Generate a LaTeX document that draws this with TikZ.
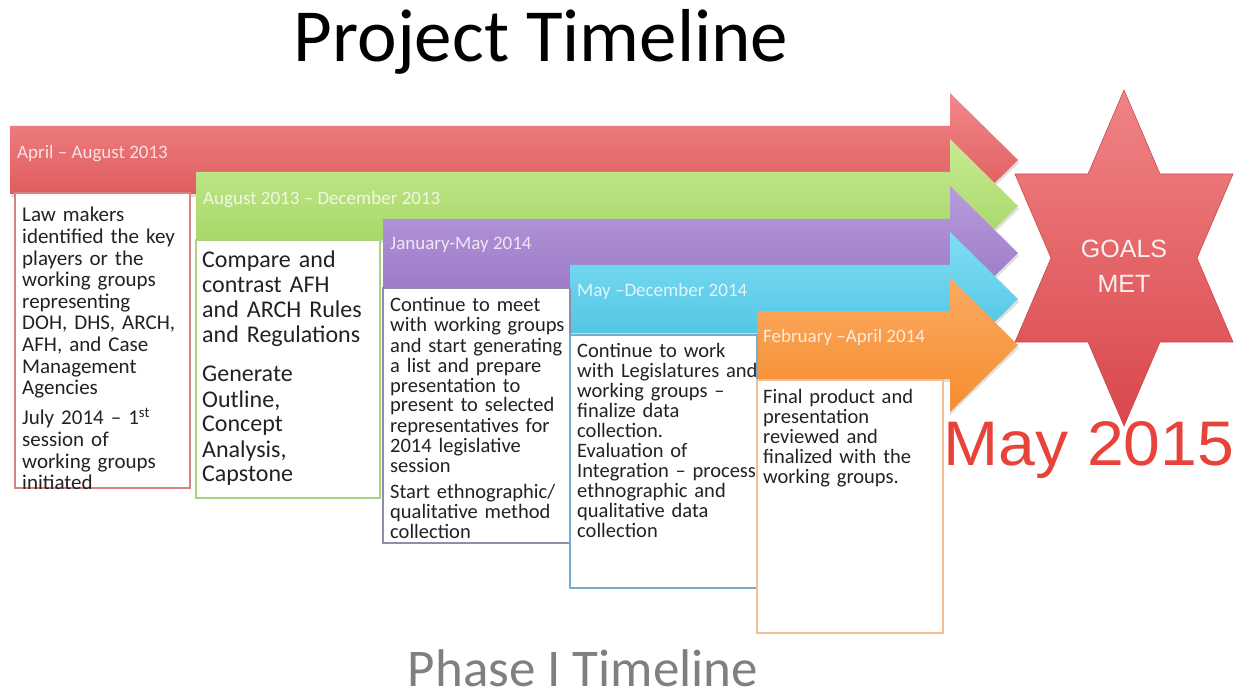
\documentclass[tikz,border=0pt]{standalone}
\usepackage{fontspec}
\setmainfont{Carlito}
\newfontfamily\arialfont{Liberation Sans}
\definecolor{redA}{HTML}{F2888B}
\definecolor{redB}{HTML}{DA4F50}
\definecolor{greenA}{HTML}{C8EA92}
\definecolor{greenB}{HTML}{9DD25C}
\definecolor{purpleA}{HTML}{B89CDB}
\definecolor{purpleB}{HTML}{9470C3}
\definecolor{cyanA}{HTML}{82DEF3}
\definecolor{cyanB}{HTML}{43BFE1}
\definecolor{orangeA}{HTML}{FBAA62}
\definecolor{orangeB}{HTML}{F68D2E}
\definecolor{redL}{HTML}{D98283}
\definecolor{greenL}{HTML}{A9D37C}
\definecolor{purpleL}{HTML}{8E8EAA}
\definecolor{cyanL}{HTML}{7AABC9}
\definecolor{orangeL}{HTML}{F2BF92}
\definecolor{starA}{HTML}{F08486}
\definecolor{starB}{HTML}{D9474B}
\definecolor{starL}{HTML}{C8494C}
\definecolor{mayred}{HTML}{E8433B}
\definecolor{txtgray}{HTML}{222222}
\definecolor{subgray}{HTML}{7F7F7F}
\newcommand\tlarrow[4]{%
  \fill[black!12] (#1+1,#2-31) -- (950,#2-31) -- (950,#2-64) -- (1019,#2+3) --
    (950,#2+70) -- (950,#2+37) -- (#1+1,#2+37) -- cycle;
  \shade[top color=#3,bottom color=#4]
    (#1,#2-34) -- (950,#2-34) -- (950,#2-67) -- (1018,#2) --
    (950,#2+67) -- (950,#2+34) -- (#1,#2+34) -- cycle;}
\tikzset{
  boxtext/.style={anchor=base west, inner sep=0pt, text width=#1, align=left, text=txtgray},
  lbl/.style={anchor=base west, inner sep=0pt, text=white, text opacity=0.8, font=\fontsize{19}{22}\selectfont},
  boxframe/.style={fill=white, line width=1.1pt}
}
\begin{document}
\begin{tikzpicture}[x=1pt,y=-1pt]
\useasboundingbox (0,0) rectangle (1246,700);
% arrows
\tlarrow{10}{160}{redA}{redB}
\tlarrow{196}{206}{greenA}{greenB}
\tlarrow{383}{253}{purpleA}{purpleB}
\tlarrow{570}{299}{cyanA}{cyanB}
\tlarrow{757}{345}{orangeA}{orangeB}
% labels
\node[lbl] (l1) at (17,159) {April – August 2013};
\node[lbl] (l2) at (203,205) {August 2013 – December 2013};
\node[lbl] (l3) at (390,250) {January-May 2014};
\node[lbl] (l4) at (577,297) {May –December 2014};
\node[lbl] (l5) at (763,342) {February –April 2014};
% boxes
\draw[boxframe, draw=redL] (15,193) rectangle (190,488);
\draw[boxframe, draw=greenL] (196,240) rectangle (380,498);
\draw[boxframe, draw=purpleL] (383,288) rectangle (570,543);
\draw[boxframe, draw=cyanL] (570,335) rectangle (757,588);
\draw[boxframe, draw=orangeL] (757,380) rectangle (943,633);
% box texts
\node[boxtext=170pt, font=\fontsize{21}{21.6}\selectfont] (t1) at (22,222)
  {Law makers\\identified the key\\players or the\\working groups\\representing\\DOH, DHS, ARCH,\\AFH, and Case\\Management\\Agencies\\[8.5pt]July 2014 – 1\textsuperscript{st}\\session of\\working groups\\initiated};
\node[boxtext=178pt, font=\fontsize{24}{25}\selectfont] (t2) at (202,268)
  {Compare and\\contrast AFH\\and ARCH Rules\\and Regulations\\[14pt]Generate\\Outline,\\Concept\\Analysis,\\Capstone};
\node[boxtext=180pt, font=\fontsize{20.5}{20}\selectfont] (t3) at (390,312)
  {Continue to meet\\with working groups\\and start generating\\a list and prepare\\presentation to\\present to selected\\representatives for\\2014 legislative\\session\\[6pt]Start ethnographic/\\qualitative method\\collection};
\node[boxtext=182pt, font=\fontsize{20.5}{20}\selectfont] (t4) at (577,357)
  {Continue to work\\with Legislatures and\\working groups –\\finalize data\\collection.\\Evaluation of\\Integration – process\\ethnographic and\\qualitative data\\collection};
\node[boxtext=180pt, font=\fontsize{20.5}{20}\selectfont] (t5) at (763,403)
  {Final product and\\presentation\\reviewed and\\finalized with the\\working groups.};
% star
\shade[top color=starA, bottom color=starB, draw=starL, line width=0.6pt]
  (1124,90) -- (1160,174) -- (1233,174) -- (1197,258) -- (1233,342) --
  (1160,342) -- (1124,426) -- (1088,342) -- (1015,342) -- (1051,258) --
  (1015,174) -- (1088,174) -- cycle;
\node[anchor=base, inner sep=0pt, text=white, text opacity=0.9, font=\arialfont\fontsize{25}{30}\selectfont] (goals) at (1124,258) {GOALS};
\node[anchor=base, inner sep=0pt, text=white, text opacity=0.9, font=\arialfont\fontsize{25}{30}\selectfont] (met) at (1124,292) {MET};
\node[anchor=base, inner sep=0pt, text=mayred, font=\arialfont\fontsize{63}{70}\selectfont, xscale=1.05] (may) at (1089,465) {May 2015};
% titles
\node[anchor=base, inner sep=0pt, font=\fontsize{75}{80}\selectfont] (title) at (541,62) {Project Timeline};
\node[anchor=base, inner sep=0pt, text=subgray, font=\fontsize{53}{56}\selectfont] (sub) at (583,686) {Phase I Timeline};
\end{tikzpicture}
\end{document}
